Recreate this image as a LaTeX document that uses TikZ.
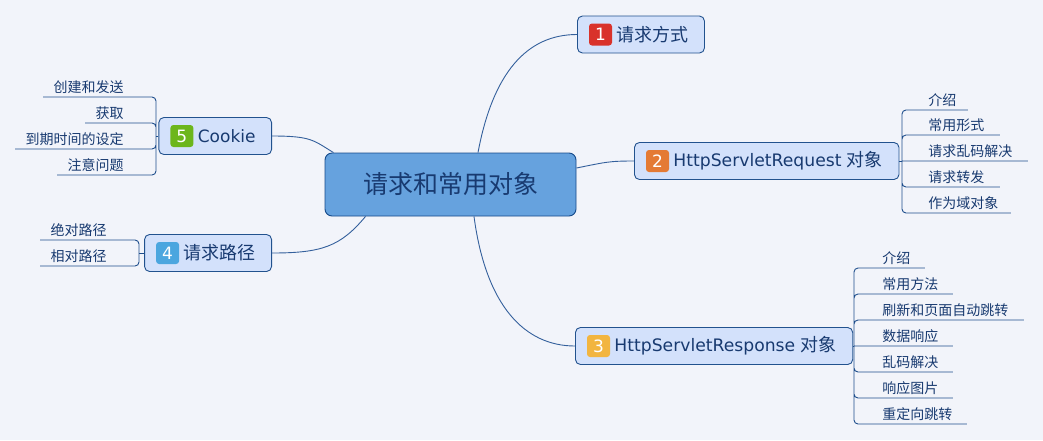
\documentclass[tikz,border=0pt]{standalone}
\usepackage{fontspec}
\setmainfont{Noto Sans CJK SC}
\newfontfamily\latin{DejaVu Sans}
\usetikzlibrary{positioning}

\definecolor{bg}{RGB}{242,244,250}
\definecolor{ink}{RGB}{24,58,112}
\definecolor{branch}{RGB}{30,78,140}
\definecolor{curve}{RGB}{52,96,156}
\definecolor{topicfill}{RGB}{211,225,251}
\definecolor{topicline}{RGB}{34,82,142}
\definecolor{rootfill}{RGB}{102,162,222}
\definecolor{rootline}{RGB}{22,74,138}
\definecolor{bred}{RGB}{217,50,43}
\definecolor{borange}{RGB}{228,122,52}
\definecolor{byellow}{RGB}{242,181,64}
\definecolor{bblue}{RGB}{75,166,223}
\definecolor{bgreen}{RGB}{108,182,28}

\begin{document}
\begin{tikzpicture}[x=1pt,y=-1pt,line width=0.9pt,
  root/.style={draw=rootline,fill=rootfill,rounded corners=7pt,minimum width=251pt,
    minimum height=63pt,text=ink,font=\fontsize{25}{25}\selectfont},
  topic/.style={draw=topicline,fill=topicfill,rounded corners=5pt,minimum height=37pt,
    inner xsep=16pt,inner ysep=0pt,text=ink,font=\fontsize{18}{18}\selectfont},
  badge/.style={fill=#1,rounded corners=3pt,minimum width=23pt,minimum height=22pt,
    inner sep=0pt,text=white,font=\latin\fontsize{17}{17}\selectfont},
  leaf/.style={inner xsep=0pt,inner ysep=3pt,text=ink,font=\fontsize{14}{14}\selectfont},
  twig/.style={draw=branch,rounded corners=4pt},
  limb/.style={draw=curve}]
  \fill[bg] (0,0) rectangle (1043,440);
  \useasboundingbox (0,0) rectangle (1043,440);

  % centre and main topics
  \node[root] (root) at (450.5,184.5) {请求和常用对象};
  \node[topic,anchor=west] (t1) at (577,34.5) {\kern23pt请求方式};
  \node[topic,anchor=west] (t2) at (634,161) {\kern23pt{\latin\fontsize{17.2}{18}\selectfont HttpServletRequest }对象};
  \node[topic,anchor=west] (t3) at (575,346) {\kern23pt{\latin\fontsize{17.2}{18}\selectfont HttpServletResponse }对象};
  \node[topic,anchor=east] (t4) at (272,253) {\kern23pt请求路径};
  \node[topic,anchor=east] (t5) at (272,136) {\kern23pt{\latin\fontsize{17}{17}\selectfont Cookie}};

  \node[badge=bred]    (b1) at ([xshift=23.5pt]t1.west) {1};
  \node[badge=borange] (b2) at ([xshift=23.5pt]t2.west) {2};
  \node[badge=byellow] (b3) at ([xshift=23.5pt]t3.west) {3};
  \node[badge=bblue]   (b4) at ([xshift=23.5pt]t4.west) {4};
  \node[badge=bgreen]  (b5) at ([xshift=23.5pt]t5.west) {5};

  \path[limb] ([xshift=27.5pt]root.north) .. controls +(15,-80) and +(-50,0) .. (t1.west)
              ([yshift=16.5pt]root.east) .. controls +(30,-6) and +(-25,0) .. (t2.west)
              ([xshift=23.5pt]root.south) .. controls +(12,90) and +(-50,0) .. (t3.west)
              ([xshift=-85pt]root.south) .. controls +(-25,30) and +(50,0) .. (t4.east)
              ([xshift=-117pt]root.north) .. controls +(-20,-12) and +(40,0) .. (t5.east);

  % request leaves
  \coordinate (h2) at (902,161);
  \node[leaf,anchor=south west] (q1) at (902,110) {\kern26pt介绍\kern11pt};
  \node[leaf,anchor=south west] (q2) at (902,135) {\kern26pt常用形式\kern15pt};
  \node[leaf,anchor=south west] (q3) at (902,161) {\kern26pt请求乱码解决\kern15pt};
  \node[leaf,anchor=south west] (q4) at (902,187) {\kern26pt请求转发\kern15pt};
  \node[leaf,anchor=south west] (q5) at (902,213) {\kern26pt作为域对象\kern12pt};
  \path[twig] (t2.east) -- (h2);
  \path[twig] (h2) |- (q1.south east)
              (h2) |- (q2.south east)
              (h2) -- (q3.south east)
              (h2) |- (q4.south east)
              (h2) |- (q5.south east);

  % response leaves
  \coordinate (h3) at (854,346);
  \node[leaf,anchor=south west] (p1) at (854,268) {\kern28pt介绍\kern14pt};
  \node[leaf,anchor=south west] (p2) at (854,294) {\kern28pt常用方法\kern14pt};
  \node[leaf,anchor=south west] (p3) at (854,320) {\kern28pt刷新和页面自动跳转\kern15pt};
  \node[leaf,anchor=south west] (p4) at (854,346) {\kern28pt数据响应\kern14pt};
  \node[leaf,anchor=south west] (p5) at (854,372) {\kern28pt乱码解决\kern14pt};
  \node[leaf,anchor=south west] (p6) at (854,398) {\kern28pt响应图片\kern14pt};
  \node[leaf,anchor=south west] (p7) at (854,424) {\kern28pt重定向跳转\kern14pt};
  \path[twig] (t3.east) -- (h3);
  \path[twig] (h3) |- (p1.south east)
              (h3) |- (p2.south east)
              (h3) |- (p3.south east)
              (h3) -- (p4.south east)
              (h3) |- (p5.south east)
              (h3) |- (p6.south east)
              (h3) |- (p7.south east);

  % path leaves
  \coordinate (h4) at (139,253);
  \node[leaf,anchor=south east] (a1) at (139,240) {\kern10pt绝对路径\kern32pt};
  \node[leaf,anchor=south east] (a2) at (139,266) {\kern10pt相对路径\kern32pt};
  \path[twig] (t4.west) -- (h4);
  \path[twig] (h4) |- (a1.south west)
              (h4) |- (a2.south west);

  % cookie leaves
  \coordinate (h5) at (156,136);
  \node[leaf,anchor=south east] (c1) at (156,97)  {\kern10pt创建和发送\kern32pt};
  \node[leaf,anchor=south east] (c2) at (156,123) {\kern10pt获取\kern32pt};
  \node[leaf,anchor=south east] (c3) at (156,149) {\kern10pt到期时间的设定\kern32pt};
  \node[leaf,anchor=south east] (c4) at (156,175) {\kern10pt注意问题\kern32pt};
  \path[twig] (t5.west) -- (h5);
  \path[twig] (h5) |- (c1.south west)
              (h5) |- (c2.south west)
              (h5) |- (c3.south west)
              (h5) |- (c4.south west);
\end{tikzpicture}
\end{document}
